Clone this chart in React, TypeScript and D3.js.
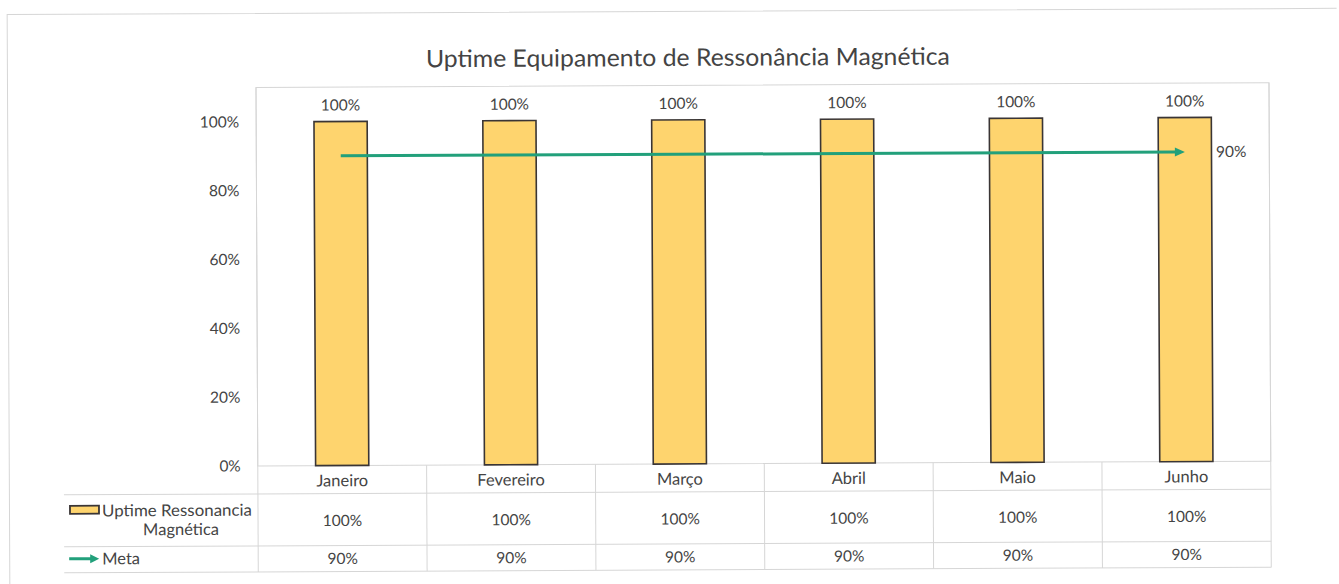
import React from "react";
import * as d3 from "d3";

const months = ["Janeiro", "Fevereiro", "Março", "Abril", "Maio", "Junho"];
const uptime = [1, 1, 1, 1, 1, 1];
const meta = [0.9, 0.9, 0.9, 0.9, 0.9, 0.9];
const yTicks = [0, 0.2, 0.4, 0.6, 0.8, 1.0];
const title = "Uptime Equipamento de Ressonância Magnética";
const seriesBar = ["Uptime Ressonancia", "Magnética"];
const seriesLine = "Meta";

const W = 1339;
const H = 584;
const FONT = "Lato, 'Open Sans', sans-serif";
const TXT = "#444444";
const GRID = "#d6d6d6";
const BAR = "#FED46E";
const LINE = "#22a07b";
const FS = 15.5;
const FSL = 16.5;

export default function App() {
  const plotL = 257;
  const plotR = 1270;
  const x = d3.scaleBand<string>().domain(months).range([plotL, plotR]).padding(0);
  const y = d3.scaleLinear().domain([0, 1.1]).range([464, 85.5]);
  const bw = x.bandwidth() * 0.315;
  const cx = (m: string) => (x(m) as number) + x.bandwidth() / 2;
  const pct = d3.format(".0%");

  const rowTop = y(0);
  const row1 = 492;
  const row2 = 544;
  const row3 = 570;
  const legL = 63;

  const lastX = cx(months[months.length - 1]);
  const arrowLen = 10;
  const lineGen = d3
    .line<number>()
    .x((_, i) => (i === months.length - 1 ? cx(months[i]) - arrowLen + 1 : cx(months[i])))
    .y((d) => y(d));

  const metaY = y(meta[meta.length - 1]);
  const bounds = months.map((m) => x(m) as number).concat([plotR]);

  return (
    <svg
      width={W}
      height={H}
      style={{ position: "fixed", left: 0, top: 0, background: "#fff", overflow: "hidden", display: "block" }}
      fontFamily={FONT}
    >
      <g transform={`rotate(-0.27, 669, 300)`}>
        {/* outer chart frame: top and left edges */}
        <path d={`M8.5,584 L8.5,11.5 L1338,11.5`} fill="none" stroke={GRID} strokeWidth={1} />

        {/* title */}
        <text
          x={689}
          y={66}
          textAnchor="middle"
          fontSize={24}
          fill={TXT}
          textLength={524}
          lengthAdjust="spacingAndGlyphs"
        >
          {title}
        </text>

        {/* plot area border */}
        <rect
          x={plotL}
          y={y(1.1)}
          width={plotR - plotL}
          height={y(0) - y(1.1)}
          fill="none"
          stroke={GRID}
          strokeWidth={1}
        />

        {/* y tick labels */}
        {yTicks.map((t) => (
          <text key={t} x={240} y={y(t)} dy="0.35em" textAnchor="end" fontSize={FS} fill={TXT}>
            {pct(t)}
          </text>
        ))}

        {/* table grid */}
        {bounds.map((b, i) => (
          <line
            key={"v" + i}
            x1={b}
            x2={b}
            y1={i === 0 || i === bounds.length - 1 ? y(1.1) : rowTop}
            y2={row3}
            stroke={GRID}
            strokeWidth={1}
          />
        ))}
        {[row1, row2, row3].map((r) => (
          <line key={"h" + r} x1={legL} x2={plotR} y1={r} y2={r} stroke={GRID} strokeWidth={1} />
        ))}

        {/* bars */}
        {months.map((m, i) => (
          <rect
            key={m}
            x={cx(m) - bw / 2}
            y={y(uptime[i])}
            width={bw}
            height={y(0) - y(uptime[i])}
            fill={BAR}
            stroke="#3a3535"
            strokeWidth={1.6}
          />
        ))}

        {/* bar data labels */}
        {months.map((m, i) => (
          <text
            key={"bl" + m}
            x={cx(m)}
            y={y(uptime[i]) - 11}
            textAnchor="middle"
            fontSize={FS}
            fill={TXT}
          >
            {pct(uptime[i])}
          </text>
        ))}

        {/* meta line with arrow */}
        <path d={lineGen(meta) || ""} fill="none" stroke={LINE} strokeWidth={3} />
        <path
          d={`M${lastX},${metaY} L${lastX - arrowLen},${metaY - 4.5} L${lastX - arrowLen},${metaY + 4.5} Z`}
          fill={LINE}
        />
        <text x={lastX + 31} y={metaY} dy="0.35em" fontSize={FS} fill={TXT}>
          {pct(meta[meta.length - 1])}
        </text>

        {/* table header (months) */}
        {months.map((m) => (
          <text key={"mh" + m} x={cx(m)} y={(rowTop + row1) / 2 + 1} dy="0.35em" textAnchor="middle" fontSize={FSL} fill={TXT}>
            {m}
          </text>
        ))}

        {/* table rows */}
        {months.map((m, i) => (
          <text key={"r1" + m} x={cx(m)} y={(row1 + row2) / 2 + 1} dy="0.35em" textAnchor="middle" fontSize={FS} fill={TXT}>
            {pct(uptime[i])}
          </text>
        ))}
        {months.map((m, i) => (
          <text key={"r2" + m} x={cx(m)} y={(row2 + row3) / 2} dy="0.35em" textAnchor="middle" fontSize={FS} fill={TXT}>
            {pct(meta[i])}
          </text>
        ))}

        {/* legend keys */}
        <rect x={69} y={503} width={29} height={8} fill={BAR} stroke="#3a3535" strokeWidth={1.8} />
        <text x={101} y={508} dy="0.35em" fontSize={FSL} fill={TXT} textLength={150} lengthAdjust="spacingAndGlyphs">
          {seriesBar[0]}
        </text>
        <text x={180} y={527} dy="0.35em" textAnchor="middle" fontSize={FSL} fill={TXT}>
          {seriesBar[1]}
        </text>

        <line x1={68} x2={90} y1={556} y2={556} stroke={LINE} strokeWidth={3} />
        <path d={`M98,556 L89,551.5 L89,560.5 Z`} fill={LINE} />
        <text x={101} y={556} dy="0.35em" fontSize={FSL} fill={TXT}>
          {seriesLine}
        </text>
      </g>
    </svg>
  );
}
